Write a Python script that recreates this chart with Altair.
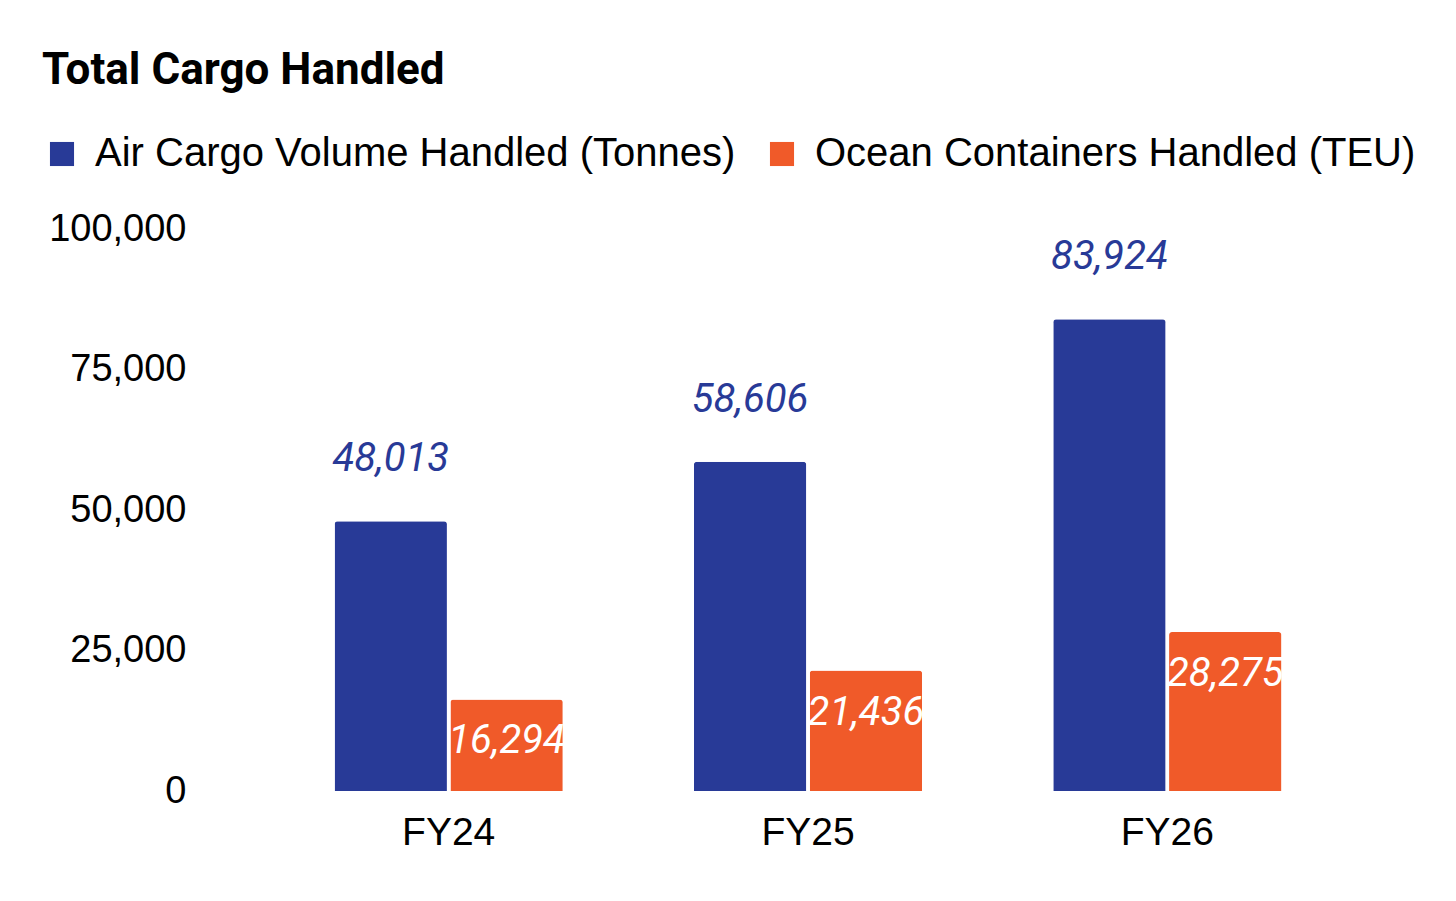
import altair as alt
import pandas as pd

years = ["FY24", "FY25", "FY26"]
air_tonnes = [48013, 58606, 83924]
ocean_teu = [16294, 21436, 28275]

AIR = "Air Cargo Volume Handled (Tonnes)"
OCEAN = "Ocean Containers Handled (TEU)"
_NAVY = "#283a97"
_ORANGE = "#f05a29"
_SANS = "Arial, Liberation Sans"

df = pd.DataFrame(
    [{"year": y, "series": AIR, "value": v} for y, v in zip(years, air_tonnes)]
    + [{"year": y, "series": OCEAN, "value": v} for y, v in zip(years, ocean_teu)]
)

x = alt.X("year:N", title=None,
          scale=alt.Scale(paddingInner=0.365, paddingOuter=0.1825),
          axis=alt.Axis(labelAngle=0, domain=False, ticks=False,
                        labelFont=_SANS, labelFontSize=39,
                        labelColor="#000", labelPadding=22))
x_off = alt.XOffset("series:N", sort=[AIR, OCEAN],
                    scale=alt.Scale(domain=[AIR, OCEAN], paddingInner=0.03))
y = alt.Y("value:Q", title=None,
          scale=alt.Scale(domain=[0, 100000]),
          axis=alt.Axis(values=[0, 25000, 50000, 75000, 100000], format=",d",
                        domain=False, ticks=False, grid=False,
                        labelFont=_SANS, labelFontSize=38,
                        labelColor="#000", labelPadding=83))

base = alt.Chart(df)

bars = base.mark_bar(cornerRadiusTopLeft=3, cornerRadiusTopRight=3).encode(
    x=x, xOffset=x_off, y=y,
    color=alt.Color("series:N",
                    scale=alt.Scale(domain=[AIR, OCEAN], range=[_NAVY, _ORANGE]),
                    legend=alt.Legend(title=None, orient="none", direction="horizontal",
                                      legendX=-227, legendY=-95,
                                      symbolType="square", symbolSize=580,
                                      symbolStrokeWidth=0, symbolOpacity=1,
                                      labelFont=_SANS, labelFontSize=40,
                                      labelColor="#000",
                                      labelOffset=13, labelLimit=900,
                                      columnPadding=26)),
)

air_labels = base.transform_filter(alt.datum.series == AIR).mark_text(
    font="Roboto", fontStyle="italic", fontSize=40, color=_NAVY,
    baseline="middle", dy=-62,
).encode(x=x, xOffset=x_off, y=y, text=alt.Text("value:Q", format=","))

ocean_labels = base.transform_filter(alt.datum.series == OCEAN).mark_text(
    font="Roboto", fontStyle="italic", fontSize=40, color="white",
    baseline="middle", dy=42,
).encode(x=x, xOffset=x_off, y=y, text=alt.Text("value:Q", format=","))

chart = (
    alt.layer(bars, air_labels, ocean_labels)
    .properties(
        width=1078, height=562,
        padding={"left": 34, "top": 41, "right": 5, "bottom": 5},
        title=alt.TitleParams("Total Cargo Handled", anchor="start", frame="bounds",
                              font="Roboto", fontWeight="bold", fontSize=44,
                              color="#000", offset=41),
    )
    .configure_view(stroke=None)
)

chart.save("out.html", embed_options={"renderer": "svg", "actions": False})
